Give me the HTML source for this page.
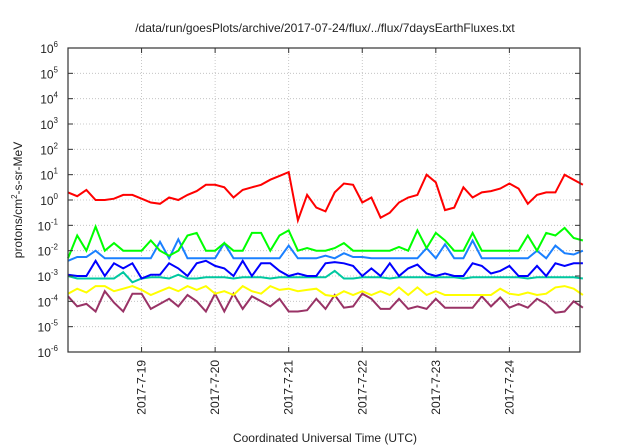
<!DOCTYPE html>
<html><head><meta charset="utf-8"><style>
body{margin:0;background:#fff;}
svg{display:block;font-family:"Liberation Sans",sans-serif;}
</style></head><body>
<svg id="chart" width="640" height="448" viewBox="0 0 640 448">
<text x="325" y="32" font-size="12" text-anchor="middle" fill="#222">/data/run/goesPlots/archive/2017-07-24/flux/../flux/7daysEarthFluxes.txt</text>
<text transform="translate(22,200) rotate(-90)" font-size="12" text-anchor="middle" fill="#222">protons/cm<tspan font-size="8" dy="-5">2</tspan><tspan dy="5">-s-sr-MeV</tspan></text>
<text x="325" y="442" font-size="12" text-anchor="middle" fill="#222">Coordinated Universal Time (UTC)</text>
<g id="grid"></g><g id="series"></g><g id="axes"></g>
</svg>
<script>
const dayTicks=[19,20,21,22,23,24];
const dayLabels=["2017-7-19","2017-7-20","2017-7-21","2017-7-22","2017-7-23","2017-7-24"];
const yExps=[-6,-5,-4,-3,-2,-1,0,1,2,3,4,5,6];
const startDay=18, stepDay=0.125;
const red=[0.3,0.15,0.4,0.0,0.0,0.05,0.2,0.2, 0.05,-0.1,-0.15,0.1,0.0,0.2,0.35,0.6, 0.6,0.5,0.1,0.4,0.5,0.6,0.8,0.95, 1.1,-0.8,0.2,-0.3,-0.45,0.3,0.65,0.6, -0.1,0.1,-0.7,-0.5,-0.1,0.1,0.2,1.0, 0.7,-0.4,-0.3,0.5,0.1,0.3,0.35,0.45, 0.65,0.45,-0.15,0.2,0.3,0.3,1.0,0.8, 0.6];
const green=[-2.3,-1.4,-2,-1.05,-2,-1.7,-2,-2, -2,-1.6,-2,-2.2,-2,-1.4,-1.3,-2, -2,-1.7,-2,-2,-1.3,-1.3,-2,-1.4, -1.2,-2,-1.9,-2,-2,-1.9,-1.7,-2, -2,-2,-2,-2,-1.85,-2,-1.2,-1.9, -1.3,-1.6,-2,-2,-1.3,-2,-2,-2, -2,-2,-1.4,-2,-1.3,-1.4,-1.1,-1.5, -1.6];
const lightBlue=[-2.4,-2.25,-2.25,-2.0,-2.3,-2.3,-2.3,-2.3, -2.3,-2.3,-1.65,-2.3,-1.55,-2.3,-2.3,-2.3, -2.3,-1.7,-2.3,-2.3,-2.3,-2.3,-2.3,-2.3, -1.8,-2.3,-2.3,-2.3,-2.2,-2.3,-2.1,-2.25, -2.25,-2.3,-2.3,-2.3,-2.3,-2.3,-2.3,-1.9, -2.3,-1.75,-2.3,-2.3,-1.6,-2.3,-2.3,-2.3, -2.3,-2.3,-2.3,-2.0,-2.3,-1.8,-2.1,-2.15, -2.0];
const blue=[-2.95,-3,-3,-2.4,-3,-2.5,-2.7,-2.5, -3.1,-2.95,-2.95,-2.5,-2.7,-3,-2.5,-2.4, -2.6,-2.7,-3,-2.4,-3,-2.5,-2.5,-2.8, -3,-2.9,-3,-3,-2.5,-2.45,-2.5,-2.6, -3,-2.7,-3,-2.5,-3,-2.7,-2.55,-2.9, -3,-2.9,-3,-3,-2.5,-2.6,-2.9,-2.8, -2.6,-3,-3,-2.6,-3,-2.5,-2.6,-2.5, -2.5];
const teal=[-3.0,-3.1,-3.1,-3.1,-3.1,-3.1,-2.85,-3.25, -3.1,-3.05,-3.05,-3.1,-2.95,-3.1,-3.1,-3.05, -3.05,-3.05,-3.1,-3.05,-3.05,-3.05,-3.1,-3.05, -3.05,-3.05,-3.05,-3.05,-3.05,-2.8,-3.1,-3.1, -3.05,-3.05,-3.05,-3.1,-3.05,-3.05,-3.05,-3.05, -3.05,-3.05,-3.05,-3.1,-3.05,-3.05,-3.05,-3.05, -3.05,-3.05,-3.1,-3.05,-3.05,-3.05,-3.05,-3.05, -3.1];
const yellow=[-3.7,-3.5,-3.65,-3.4,-3.4,-3.6,-3.5,-3.4, -3.55,-3.75,-3.6,-3.45,-3.6,-3.4,-3.55,-3.4, -3.7,-3.6,-3.75,-3.4,-3.6,-3.7,-3.4,-3.55, -3.5,-3.6,-3.55,-3.5,-3.75,-3.8,-3.6,-3.75, -3.6,-3.75,-3.6,-3.75,-3.45,-3.75,-3.45,-3.75, -3.6,-3.75,-3.75,-3.75,-3.75,-3.75,-3.75,-3.5, -3.7,-3.75,-3.65,-3.75,-3.7,-3.45,-3.4,-3.5, -3.75];
const purple=[-3.8,-4.2,-4.1,-4.4,-3.6,-4.05,-4.4,-3.7, -3.7,-4.3,-4.1,-3.9,-4.2,-3.75,-4.0,-4.4, -3.7,-4.4,-3.7,-4.3,-3.8,-4.0,-4.2,-3.9, -4.4,-4.4,-4.35,-3.9,-4.3,-3.75,-4.25,-4.2, -3.7,-3.9,-4.3,-4.3,-3.9,-4.3,-4.2,-4.3, -3.9,-4.25,-4.25,-4.25,-4.25,-3.8,-4.2,-3.85, -4.25,-4.1,-4.25,-3.9,-4.1,-4.45,-4.4,-4.0, -4.25];

const L=68,R=580,T=48,B=352,X0=18,X1=24.96,Y0=-6,Y1=6;
const xs=d=>L+(d-X0)/(X1-X0)*(R-L);
const ys=e=>B-(e-Y0)/(Y1-Y0)*(B-T);
const NS="http://www.w3.org/2000/svg";
function mk(tag,parent,attrs){const el=document.createElementNS(NS,tag);for(const k in attrs)el.setAttribute(k,attrs[k]);parent.appendChild(el);return el;}
const grid=document.getElementById('grid'),axes=document.getElementById('axes'),ser=document.getElementById('series');
yExps.forEach(e=>{
  const y=ys(e);
  if(e>Y0&&e<Y1){const g=mk('line',grid,{x1:L,x2:R,y1:y,y2:y,stroke:'#bbb','stroke-width':0.8,'stroke-dasharray':'1,2'});
  
  }
  const t1=mk('line',axes,{x1:L,x2:L+5,y1:y,y2:y,stroke:'#333'});
  
  
  const t2=mk('line',axes,{x1:R-5,x2:R,y1:y,y2:y,stroke:'#333'});
  
  
  const tx=mk('text',axes,{x:58,y:y+5,'font-size':12,'text-anchor':'end',fill:'#222'});
  
  
  tx.textContent='10';
  const sp=mk('tspan',tx,{'font-size':8,dy:-6});sp.textContent=String(e);
});
dayTicks.forEach((d,i)=>{
  const x=xs(d);
  const g=mk('line',grid,{x1:x,x2:x,y1:T,y2:B,stroke:'#bbb','stroke-width':0.8,'stroke-dasharray':'1,2'});
  
  
  const t1=mk('line',axes,{x1:x,x2:x,y1:B-5,y2:B,stroke:'#333'});
  
  
  const t2=mk('line',axes,{x1:x,x2:x,y1:T,y2:T+5,stroke:'#333'});
  
  
  const tx=mk('text',axes,{transform:`translate(${x+4},360) rotate(-90)`,'font-size':12,'text-anchor':'end',fill:'#222'});
  
  
  tx.textContent=dayLabels[i];
});
const fr=mk('rect',axes,{x:L,y:T,width:R-L,height:B-T,fill:'none',stroke:'#333','stroke-width':1.2});


const seriesList=[[purple,'#993366','series-purple'],[yellow,'#ffff00','series-yellow'],[teal,'#00c8a0','series-teal'],[blue,'#0000ff','series-blue'],[lightBlue,'#1a80ff','series-light-blue'],[green,'#00ff00','series-green'],[red,'#ff0000','series-red']];
seriesList.forEach(([arr,col,name])=>{
  const pts=arr.map((v,i)=>xs(startDay+i*stepDay).toFixed(1)+','+ys(v).toFixed(1)).join(' ');
  const p=mk('polyline',ser,{points:pts,fill:'none',stroke:col,'stroke-width':2,'stroke-linejoin':'miter'});
  
  
});
</script>
</body></html>
